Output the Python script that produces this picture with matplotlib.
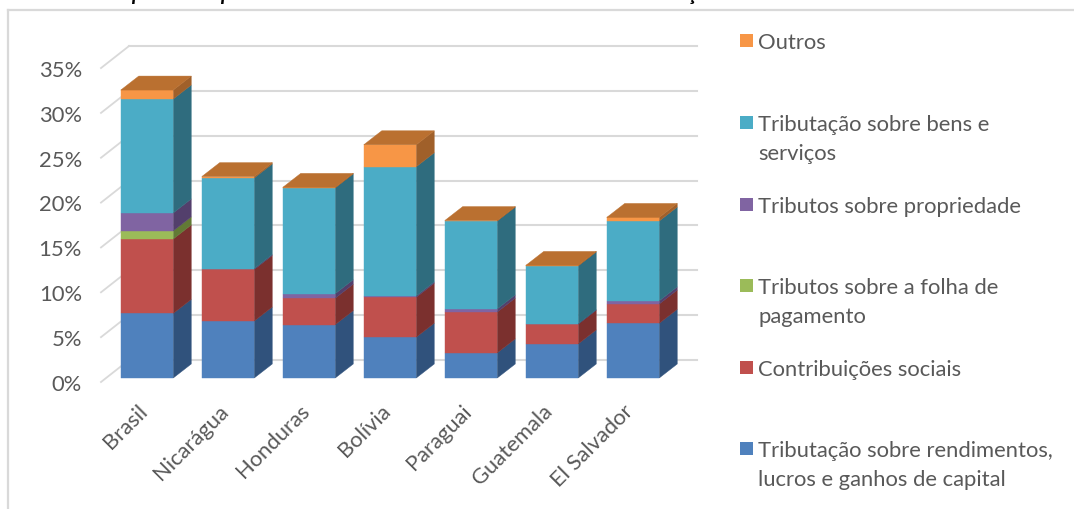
import matplotlib
matplotlib.use('Agg')
import matplotlib.pyplot as plt
from matplotlib.patches import Polygon, Rectangle

countries = ['Brasil', 'Nicarágua', 'Honduras', 'Bolívia', 'Paraguai', 'Guatemala', 'El Salvador']

# % do PIB, de baixo para cima na pilha
rendimentos = [7.2, 6.35, 5.95, 4.55, 2.8, 3.8, 6.1]
contribuicoes = [8.3, 5.75, 2.95, 4.45, 4.55, 2.2, 2.15]
folha = [0.9, 0, 0, 0, 0, 0, 0]
propriedade = [2.0, 0.1, 0.5, 0.15, 0.35, 0.05, 0.35]
bens_servicos = [12.7, 10.1, 11.8, 14.4, 9.8, 6.45, 8.9]
outros = [1.0, 0.15, 0.05, 2.45, 0.05, 0.05, 0.4]

series = [rendimentos, contribuicoes, folha, propriedade, bens_servicos, outros]
front_colors = ['#4F81BD', '#C0504D', '#9BBB59', '#8064A2', '#4BACC6', '#F79646']
side_colors = ['#30527C', '#7B302E', '#627A35', '#533F6C', '#2F6C7E', '#A0602A']
top_color = '#BA7030'

legend_labels = [
    ('Outros', '#F79646', 41),
    ('Tributação sobre bens e\nserviços', '#4BACC6', 123),
    ('Tributos sobre propriedade', '#8064A2', 205),
    ('Tributos sobre a folha de\npagamento', '#9BBB59', 286),
    ('Contribuições sociais', '#C0504D', 368),
    ('Tributação sobre rendimentos,\nlucros e ganhos de capital', '#4F81BD', 449),
]
pct_ticks = [0, 5, 10, 15, 20, 25, 30, 35]

W, H = 1074, 510
px_x = 81.0   # pixels por categoria
px_y = 8.97   # pixels por ponto percentual
x0, y0 = 147.0, 379.0   # centro da 1a barra, base das barras
font_size = 15.8
text_color = '#595959'

plt.rcParams['font.family'] = ['Lato', 'DejaVu Sans']
fig = plt.figure(figsize=(W / 100, H / 100), dpi=100)
ax = fig.add_axes([0, 0, 1, 1])
ax.set_xlim(-x0 / px_x, (W - x0) / px_x)
ax.set_ylim((y0 - H) / px_y, y0 / px_y)
ax.axis('off')


def fx(px):
    return px / W


def fy(py):
    return 1 - py / H


bar_w = 52.5 / px_x
dx = 18 / px_x
dy = 14 / px_y

# parede do fundo: grade e diagonais
wall_x0 = (129 - x0) / px_x
wall_x1 = (697 - x0) / px_x
back_dy = 18 / px_y
for t in pct_ticks:
    ax.plot([wall_x0, wall_x1], [t + back_dy, t + back_dy], color='#D9D9D9', lw=1.5, zorder=1)
    ax.plot([wall_x0 - 28 / px_x, wall_x0], [t + back_dy - 22 / px_y, t + back_dy],
            color='#D9D9D9', lw=1.3, zorder=1)
    ax.text((82 - x0) / px_x, t - 5 / px_y - 0.1, '%d%%' % t, ha='right', va='center',
            fontsize=font_size, color=text_color)

# barras empilhadas
z = 2
for i in range(len(countries)):
    left = i - bar_w / 2
    right = i + bar_w / 2
    bottom = 0
    for s in range(len(series)):
        v = series[s][i]
        if v == 0:
            continue
        top = bottom + v
        ax.add_patch(Polygon([(right, bottom), (right + dx, bottom + dy), (right + dx, top + dy), (right, top)],
                             closed=True, fc=side_colors[s], ec=side_colors[s], lw=0.3, zorder=z))
        ax.add_patch(Rectangle((left, bottom), bar_w, v, fc=front_colors[s], ec=front_colors[s],
                               lw=0.3, zorder=z + 1))
        bottom = top
    ax.add_patch(Polygon([(left, bottom), (right, bottom), (right + dx, bottom + dy), (left + dx, bottom + dy)],
                         closed=True, fc=top_color, ec=top_color, lw=0.3, zorder=z + 1))
    z += 2

    ax.annotate(countries[i], xy=(i, 0), xytext=(-10, -22), textcoords='offset pixels',
                rotation=45, rotation_mode='anchor', ha='right', va='top',
                fontsize=font_size, color=text_color)

# legenda
for label, color, py in legend_labels:
    fig.add_artist(Rectangle((fx(740), fy(py + 6.5)), 13 / W, 13 / H, transform=fig.transFigure,
                             fc=color, ec='none'))
    fig.text(fx(758), fy(py - 8), label, ha='left', va='top', fontsize=font_size,
             color=text_color, linespacing=1.56)

# moldura da area do grafico
fig.add_artist(plt.Line2D([fx(8), 1], [fy(10.5), fy(10.5)], color='#D9D9D9', lw=1.6))
fig.add_artist(plt.Line2D([fx(8), fx(8)], [fy(10.5), 0], color='#D9D9D9', lw=1.6))

# descendentes do titulo cortado no topo
for px, ch in [(131, 'p'), (220, 'p'), (688, 'ç')]:
    fig.text(fx(px), fy(0), ch, fontsize=15, fontweight='bold', fontstyle='italic', color='black',
             ha='left', va='baseline')

fig.savefig('out.png', dpi=100)
